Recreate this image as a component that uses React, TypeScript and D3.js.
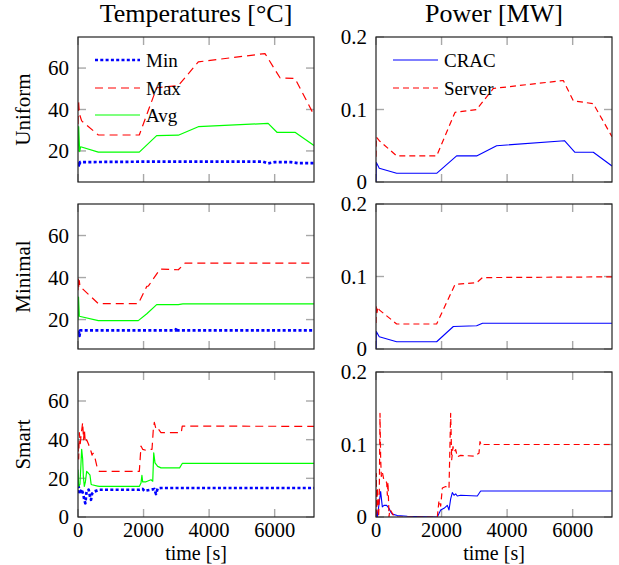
import React from 'react';
import * as d3 from 'd3';

// axis setup
const timeDomain: [number, number] = [0, 7200];
const timeTicks = [0, 2000, 4000, 6000];
const tempTicks = [20, 40, 60];
const tempTicksSmart = [0, 20, 40, 60];
const powerTicks = [0, 0.1, 0.2];
const rowNames = ['Uniform', 'Minimal', 'Smart'];
const columnTitles = ['Temperatures [\u00B0C]', 'Power [MW]'];
const tempLegend = ['Min', 'Max', 'Avg'];
const powerLegend = ['CRAC', 'Server'];

type Pt = [number, number];

// --- Uniform ---
const uniformMin: Pt[] = [[0, 14.5], [15, 12.2], [30, 13.5], [45, 12.8], [60, 14.6], [150, 14.6], [1900, 14.8], [5650, 14.8], [5800, 14.0], [6000, 14.6], [6500, 14.6], [6700, 14.1], [7200, 14.1]];
const uniformMax: Pt[] = [[0, 33], [15, 44.5], [40, 38], [112, 34.5], [620, 27.7], [1870, 27.7], [2400, 50.5], [3060, 51.5], [3670, 63], [5705, 67], [6163, 55.3], [6620, 55], [7200, 37.3]];
const uniformAvg: Pt[] = [[0, 19.7], [20, 31.7], [50, 19.7], [80, 22], [620, 19.4], [1870, 19.4], [2400, 27.4], [3060, 27.6], [3670, 31.7], [5800, 33.3], [6070, 29], [6620, 29], [7200, 22.6]];
const uniformCrac: Pt[] = [[0, 0], [10, 0.027], [100, 0.019], [630, 0.012], [1850, 0.012], [2460, 0.036], [3070, 0.036], [3680, 0.05], [5750, 0.057], [6070, 0.041], [6630, 0.041], [7200, 0.022]];
const uniformServer: Pt[] = [[0, 0.035], [10, 0.062], [100, 0.057], [630, 0.036], [1850, 0.036], [2410, 0.096], [3070, 0.1], [3580, 0.129], [5715, 0.14], [6020, 0.112], [6630, 0.108], [7200, 0.0625]];

// --- Minimal ---
const minimalMin: Pt[] = [[0, 14.8], [15, 12.5], [30, 13.8], [45, 12.2], [70, 14.9], [2980, 14.9], [3000, 16], [3020, 14.9], [7200, 14.9]];
const minimalMax: Pt[] = [[0, 34], [10, 39.8], [25, 35], [40, 38.5], [60, 35.8], [620, 27.6], [1840, 27.6], [2100, 35.8], [2150, 36], [2500, 44], [3060, 43.7], [3265, 46.9], [7200, 46.9]];
const minimalAvg: Pt[] = [[0, 20], [15, 30.7], [40, 21.6], [620, 19.5], [1840, 19.5], [2100, 22.8], [2400, 27.1], [3060, 27.1], [3200, 27.5], [7200, 27.5]];
const minimalCrac: Pt[] = [[0, 0], [10, 0.024], [100, 0.017], [630, 0.01], [1850, 0.01], [2360, 0.031], [3070, 0.032], [3250, 0.0355], [7200, 0.0355]];
const minimalServer: Pt[] = [[0, 0.036], [10, 0.058], [30, 0.05], [60, 0.058], [100, 0.054], [630, 0.0345], [1850, 0.0345], [2410, 0.089], [3070, 0.0915], [3250, 0.0985], [7200, 0.0995]];

// --- Smart ---
const smartMin: Pt[] = [[0, 12.4], [20, 15.8], [50, 11.9], [112, 14.4], [163, 11.5], [193, 8.9], [224, 7.1], [264, 13.5], [325, 14.1], [366, 10.6], [397, 8.9], [427, 12], [498, 13.2], [600, 13.8], [651, 14.1], [1871, 14.1], [1973, 14.5], [2024, 13.5], [2227, 14.1], [2329, 14.5], [2380, 11.9], [2431, 14.8], [2532, 15], [7200, 15]];
const smartMax: Pt[] = [[0, 38], [20, 30], [41, 43.6], [70, 38], [92, 42], [142, 48.9], [170, 40], [193, 45.4], [224, 38.4], [264, 40], [325, 37.5], [366, 35], [397, 34], [427, 32], [460, 33], [498, 32], [600, 24.5], [651, 23.6], [1871, 23.6], [1922, 36.7], [1973, 35], [2075, 34.5], [2176, 35], [2258, 35], [2298, 45.4], [2329, 48.9], [2380, 45.4], [2431, 46], [2532, 43.6], [3150, 43.6], [3180, 47], [7200, 46.9]];
const smartAvg: Pt[] = [[0, 24.5], [20, 15.8], [60, 17], [112, 35], [142, 30], [163, 21], [193, 15.8], [224, 18], [264, 23.6], [325, 22.5], [366, 21.6], [400, 17], [427, 16.7], [600, 16], [651, 15.8], [1871, 15.8], [1922, 17.6], [1950, 21.5], [1973, 18.2], [2075, 18.2], [2227, 19.3], [2280, 18.5], [2310, 33.2], [2349, 28], [2431, 26.2], [2532, 25.4], [3100, 25.4], [3180, 27.7], [7200, 27.7]];
const smartCrac: Pt[] = [[0, 0], [20, 0.009], [41, 0], [142, 0.035], [193, 0.014], [244, 0.016], [325, 0.016], [397, 0.012], [447, 0.007], [498, 0.004], [651, 0.002], [956, 0.001], [1871, 0], [1973, 0.0097], [2075, 0.012], [2176, 0.016], [2227, 0.0097], [2278, 0.025], [2329, 0.0336], [2380, 0.03], [2431, 0.032], [2481, 0.029], [2583, 0.03], [3091, 0.029], [3193, 0.0358], [7200, 0.0358]];
const smartServer: Pt[] = [[0, 0], [10, 0.06], [20, 0.005], [41, 0.04], [80, 0], [100, 0.03], [122, 0.143], [142, 0.08], [163, 0.056], [193, 0.062], [244, 0.05], [325, 0.048], [346, 0.03], [366, 0.048], [397, 0], [420, 0.01], [447, 0.009], [498, 0.005], [549, 0.001], [651, 0], [1871, 0], [1922, 0.023], [1973, 0.015], [2024, 0.04], [2125, 0.042], [2227, 0.039], [2278, 0.143], [2309, 0.079], [2349, 0.097], [2380, 0.09], [2431, 0.093], [2481, 0.083], [2583, 0.085], [2990, 0.084], [3142, 0.088], [3173, 0.104], [3214, 0.099], [3295, 0.1], [7200, 0.1]];

const FONT = "'Liberation Serif', 'DejaVu Serif', serif";

const lineStyle: Record<string, { stroke: string; width: number; dash?: string }> = {
  Min: { stroke: '#0000ff', width: 2.7, dash: '3,2.3' },
  Max: { stroke: '#ff0000', width: 1.2, dash: '8,5' },
  Avg: { stroke: '#00ff00', width: 1.2 },
  CRAC: { stroke: '#0000ff', width: 1.1 },
  Server: { stroke: '#ff0000', width: 1.2, dash: '6,4' },
};

const colLeft = [78, 376];
const colWidth = 236;
const rowTop = [37, 204, 372];
const rowHeight = 145;

const tempData = [
  { Min: uniformMin, Max: uniformMax, Avg: uniformAvg },
  { Min: minimalMin, Max: minimalMax, Avg: minimalAvg },
  { Min: smartMin, Max: smartMax, Avg: smartAvg },
];
const powerData = [
  { CRAC: uniformCrac, Server: uniformServer },
  { CRAC: minimalCrac, Server: minimalServer },
  { CRAC: smartCrac, Server: smartServer },
];
const tempDomains: [number, number][] = [[5, 75], [6, 75], [0, 75]];

interface PanelProps {
  id: string;
  x0: number;
  y0: number;
  yDomain: [number, number];
  yTicks: number[];
  yFormat: (v: number) => string;
  series: Record<string, Pt[]>;
  legend?: string[];
  showX: boolean;
}

const Panel = ({ id, x0, y0, yDomain, yTicks, yFormat, series, legend, showX }: PanelProps) => {
  const x = d3.scaleLinear().domain(timeDomain).range([x0, x0 + colWidth]);
  const y = d3.scaleLinear().domain(yDomain).range([y0 + rowHeight, y0]);
  const line = d3.line<Pt>().x(d => x(d[0])).y(d => y(d[1]));
  const tickLen = 8;
  const tickColor = '#a8a8a8';

  return (
    <g>
      <defs>
        <clipPath id={`clip-${id}`}>
          <rect x={x0} y={y0} width={colWidth} height={rowHeight} />
        </clipPath>
      </defs>
      {/* ticks inside the frame */}
      {timeTicks.map(t => (
        <g key={`xt${t}`}>
          <line x1={x(t)} x2={x(t)} y1={y0} y2={y0 + tickLen} stroke={tickColor} strokeWidth={1.4} />
          <line x1={x(t)} x2={x(t)} y1={y0 + rowHeight} y2={y0 + rowHeight - tickLen} stroke={tickColor} strokeWidth={1.4} />
        </g>
      ))}
      {yTicks.map(v => (
        <g key={`yt${v}`}>
          <line x1={x0} x2={x0 + tickLen} y1={y(v)} y2={y(v)} stroke={tickColor} strokeWidth={1.4} />
          <line x1={x0 + colWidth} x2={x0 + colWidth - tickLen} y1={y(v)} y2={y(v)} stroke={tickColor} strokeWidth={1.4} />
          <text x={x0 - 9} y={y(v)} dy="0.35em" textAnchor="end" fontSize={21} fontFamily={FONT}>
            {yFormat(v)}
          </text>
        </g>
      ))}
      {showX &&
        timeTicks.map(t => (
          <text key={`xl${t}`} x={x(t)} y={y0 + rowHeight + 13} dy="0.35em" textAnchor="middle" fontSize={20.5} fontFamily={FONT}>
            {t}
          </text>
        ))}
      <g clipPath={`url(#clip-${id})`}>
        {Object.keys(series).map(k => (
          <path
            key={k}
            d={line(series[k]) || ''}
            fill="none"
            stroke={lineStyle[k].stroke}
            strokeWidth={lineStyle[k].width}
            strokeDasharray={lineStyle[k].dash}
            strokeLinejoin="round"
          />
        ))}
      </g>
      {legend &&
        legend.map((k, i) => {
          const ly = Math.round(y0 + 23 + i * 27.5);
          return (
            <g key={`lg${k}`}>
              <line
                x1={x0 + 17}
                x2={x0 + 62}
                y1={ly}
                y2={ly}
                stroke={lineStyle[k].stroke}
                strokeWidth={lineStyle[k].width}
                strokeDasharray={lineStyle[k].dash}
              />
              <text x={x0 + 68} y={ly} dy="0.35em" fontSize={19} fontFamily={FONT}>
                {k}
              </text>
            </g>
          );
        })}
      <rect x={x0} y={y0} width={colWidth} height={rowHeight} fill="none" stroke="#222" strokeWidth={1.2} />
    </g>
  );
};

const App = () => {
  const fmtTemp = (v: number) => String(v);
  const fmtPower = (v: number) => (v === 0 ? '0' : d3.format('.1f')(v));

  return (
    <svg width={619} height={565} style={{ position: 'absolute', left: 0, top: 0, background: '#fff' }}>
      {columnTitles.map((t, i) => (
        <text key={t} x={colLeft[i] + colWidth / 2} y={22} textAnchor="middle" fontSize={26} fontFamily={FONT}>
          {t}
        </text>
      ))}
      {rowNames.map((name, r) => (
        <g key={name}>
          <text
            transform={`translate(30, ${rowTop[r] + rowHeight / 2}) rotate(-90)`}
            textAnchor="middle"
            fontSize={21}
            fontFamily={FONT}
          >
            {name}
          </text>
          <Panel
            id={`t${r}`}
            x0={colLeft[0]}
            y0={rowTop[r]}
            yDomain={tempDomains[r]}
            yTicks={r === 2 ? tempTicksSmart : tempTicks}
            yFormat={fmtTemp}
            series={tempData[r]}
            legend={r === 0 ? tempLegend : undefined}
            showX={r === 2}
          />
          <Panel
            id={`p${r}`}
            x0={colLeft[1]}
            y0={rowTop[r]}
            yDomain={[0, 0.2]}
            yTicks={powerTicks}
            yFormat={fmtPower}
            series={powerData[r]}
            legend={r === 0 ? powerLegend : undefined}
            showX={r === 2}
          />
        </g>
      ))}
      {colLeft.map(x0 => (
        <text key={`xl${x0}`} x={x0 + colWidth / 2} y={560} textAnchor="middle" fontSize={20} fontFamily={FONT}>
          time [s]
        </text>
      ))}
    </svg>
  );
};

export default App;
